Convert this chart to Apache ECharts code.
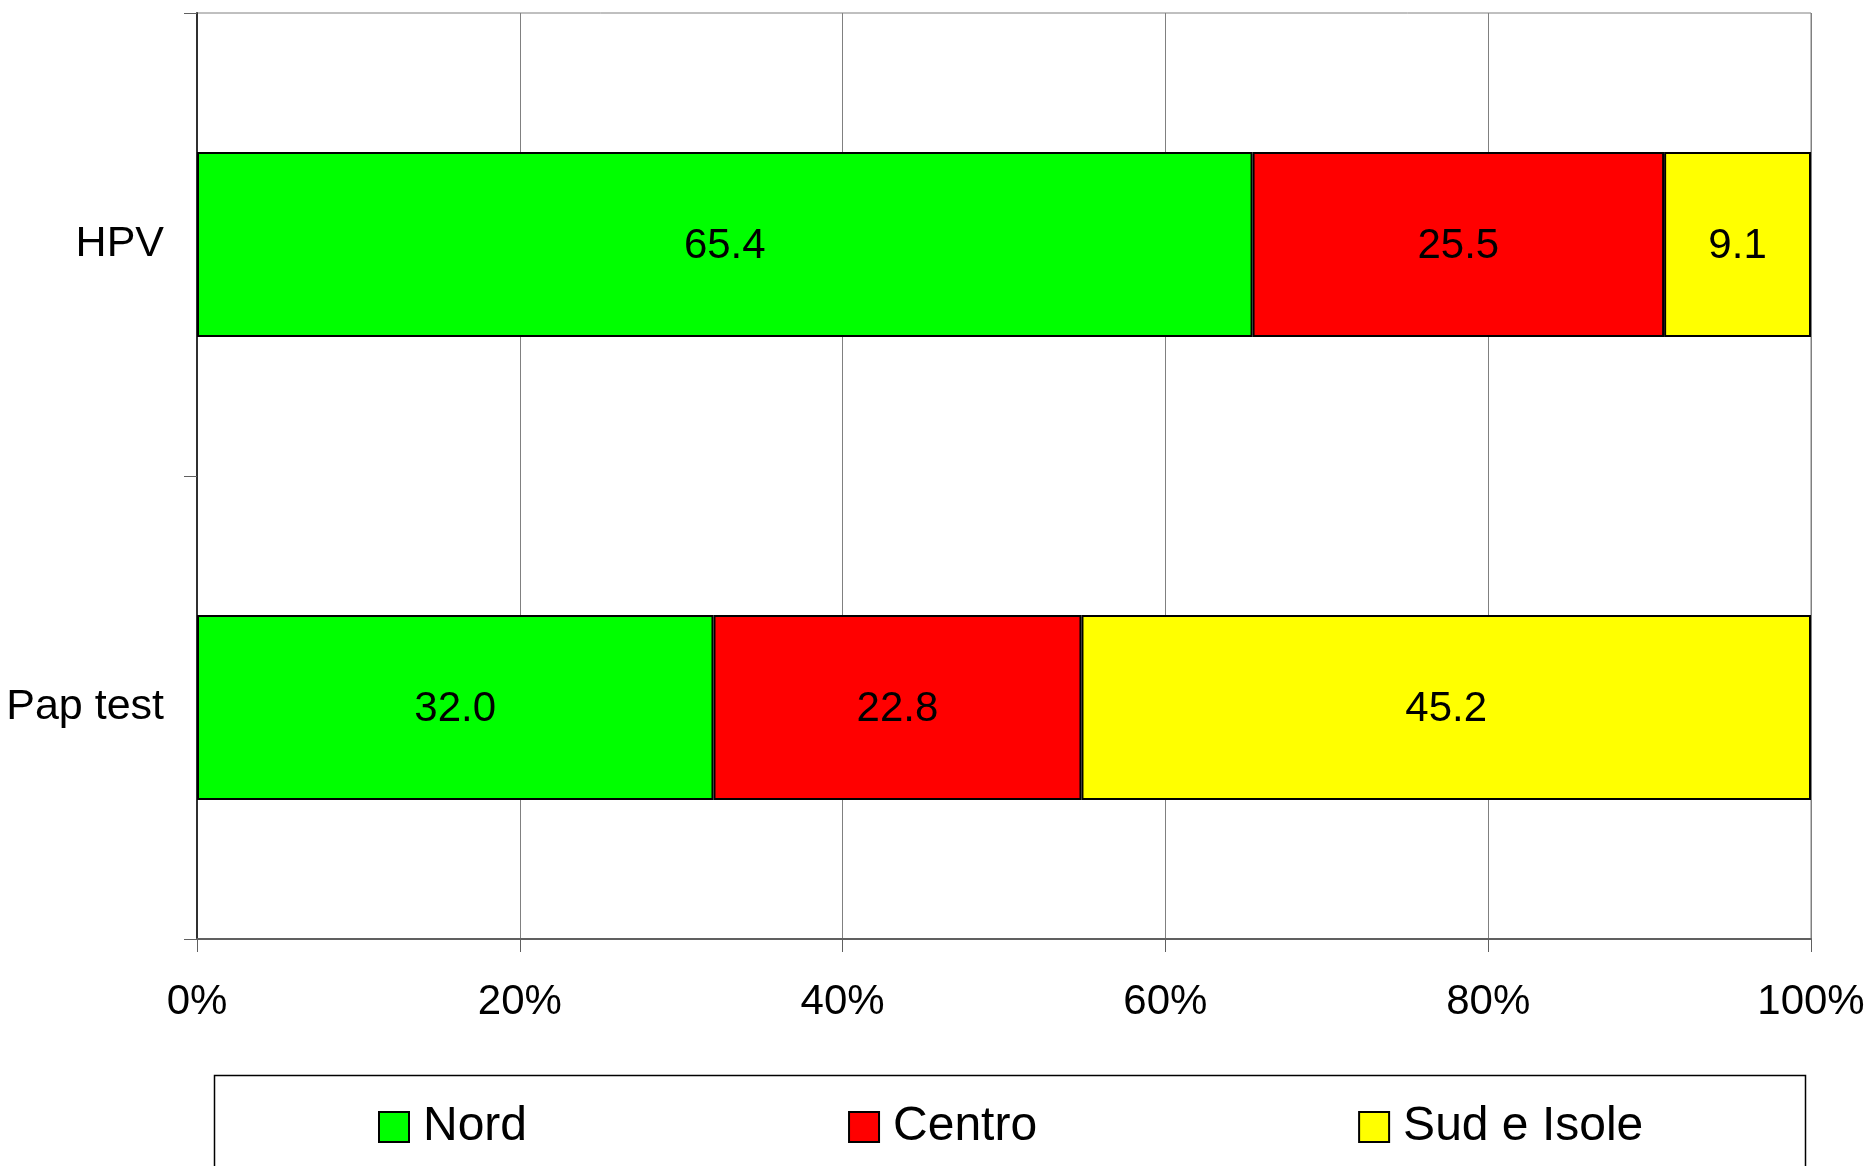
<!DOCTYPE html>
<html>
<head>
<meta charset="utf-8">
<script src="https://cdn.jsdelivr.net/npm/echarts@6/dist/echarts.min.js"></script>
<style>html,body{margin:0;padding:0;background:#fff;}#c{width:1872px;height:1166px;}</style>
</head>
<body>
<div id="c"></div>
<script>
const categories = ['HPV', 'Pap test'];
const nord = [65.4, 32.0];
const centro = [25.5, 22.8];
const sud = [9.1, 45.2];
const seriesNames = ['Nord', 'Centro', 'Sud e Isole'];
const seriesColors = ['#00FF00', '#FF0000', '#FFFF00'];

const FONT = 'Liberation Sans, Arial, sans-serif';
const chart = echarts.init(document.getElementById('c'), null, {renderer: 'canvas'});

function mk(name, data, color) {
  return {
    name: name, type: 'bar', stack: 'total', data: data, barWidth: 185,
    itemStyle: {color: color, borderColor: '#000', borderWidth: 2},
    label: {show: true, position: 'inside', color: '#000', fontFamily: FONT, fontSize: 42,
      offset: [0, 2], formatter: p => p.value.toFixed(1)},
    emphasis: {disabled: true}
  };
}

chart.setOption({
  animation: false,
  backgroundColor: '#fff',
  grid: {left: 197, right: 61, top: 13, bottom: 227, show: true, borderColor: '#808080', borderWidth: 1, containLabel: false},
  xAxis: {
    type: 'value', min: 0, max: 100, interval: 20,
    axisLine: {show: true, lineStyle: {color: '#606060', width: 2}},
    axisTick: {show: true, length: 13, lineStyle: {color: '#606060', width: 1}},
    splitLine: {show: true, lineStyle: {color: '#808080', width: 1}},
    axisLabel: {formatter: '{value}%', color: '#000', fontFamily: FONT, fontSize: 42, margin: 42}
  },
  yAxis: {
    type: 'category', inverse: true, data: categories,
    axisLine: {show: true, lineStyle: {color: '#303030', width: 2}},
    axisTick: {show: true, length: 13, alignWithLabel: false, lineStyle: {color: '#606060', width: 1}},
    splitLine: {show: false},
    axisLabel: {color: '#000', fontFamily: FONT, fontSize: 43, margin: 33}
  },
  legend: {
    data: seriesNames, left: 378, top: 1103, padding: 0, itemGap: 321,
    itemWidth: 30, itemHeight: 30, icon: 'rect',
    itemStyle: {borderColor: '#000', borderWidth: 2},
    textStyle: {color: '#000', fontFamily: FONT, fontSize: 48, lineHeight: 30, padding: [0, 0, 0, 9]},
    selectedMode: false
  },
  graphic: [{
    type: 'rect', left: 212, top: 1073, silent: true,
    shape: {width: 1591, height: 200},
    style: {fill: 'none', stroke: '#000', lineWidth: 1.5}
  }],
  series: [
    mk(seriesNames[0], nord, seriesColors[0]),
    mk(seriesNames[1], centro, seriesColors[1]),
    mk(seriesNames[2], sud, seriesColors[2])
  ]
});
</script>
</body>
</html>
